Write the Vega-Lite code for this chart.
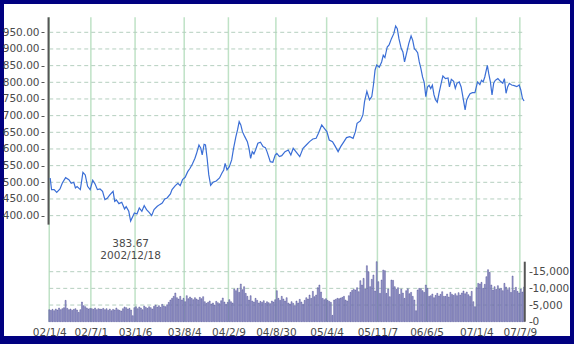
{
"$schema": "https://vega.github.io/schema/vega-lite/v6.json",
"width": 566, "height": 332,
"autosize": {"type": "none"},
"padding": {"left": 4, "top": 4, "right": 4, "bottom": 8},
"background": "#000080",
"config": {"view": {"fill": "#ffffff", "stroke": null}, "axis": {"labelFont": "DejaVu Sans", "labelFontSize": 10.5, "labelColor": "#4a4a4a", "grid": false, "labelOverlap": false}},
"datasets": {
"prices": [
{"d":"2002-01-08","p":513},{"d":"2002-01-14","p":478},{"d":"2002-01-25","p":478},{"d":"2002-02-05","p":470},{"d":"2002-02-19","p":480},{"d":"2002-03-01","p":498},{"d":"2002-03-15","p":514},{"d":"2002-03-29","p":508},{"d":"2002-04-08","p":497},{"d":"2002-04-19","p":500},{"d":"2002-04-26","p":483},{"d":"2002-05-03","p":487},{"d":"2002-05-17","p":478},{"d":"2002-05-28","p":530},{"d":"2002-06-07","p":522},{"d":"2002-06-17","p":488},{"d":"2002-06-28","p":478},{"d":"2002-07-09","p":506},{"d":"2002-07-19","p":495},{"d":"2002-07-29","p":478},{"d":"2002-08-09","p":480},{"d":"2002-08-20","p":473},{"d":"2002-08-30","p":448},{"d":"2002-09-09","p":452},{"d":"2002-09-20","p":462},{"d":"2002-10-04","p":473},{"d":"2002-10-11","p":443},{"d":"2002-10-18","p":447},{"d":"2002-10-29","p":436},{"d":"2002-11-10","p":440},{"d":"2002-11-22","p":420},{"d":"2002-11-29","p":427},{"d":"2002-12-10","p":413},{"d":"2002-12-18","p":383.67},
{"d":"2003-01-03","p":408},{"d":"2003-01-14","p":405},{"d":"2003-01-24","p":423},{"d":"2003-02-04","p":413},{"d":"2003-02-14","p":430},{"d":"2003-02-24","p":418},{"d":"2003-03-07","p":410},{"d":"2003-03-18","p":400},{"d":"2003-03-28","p":418},{"d":"2003-04-11","p":428},{"d":"2003-04-21","p":433},{"d":"2003-05-02","p":438},{"d":"2003-05-13","p":450},{"d":"2003-05-23","p":453},{"d":"2003-06-06","p":465},{"d":"2003-06-13","p":478},{"d":"2003-06-27","p":490},{"d":"2003-07-08","p":497},{"d":"2003-07-18","p":490},{"d":"2003-07-28","p":508},{"d":"2003-08-08","p":515},{"d":"2003-08-19","p":532},{"d":"2003-08-29","p":542},{"d":"2003-09-08","p":555},{"d":"2003-09-19","p":572},{"d":"2003-09-26","p":587},{"d":"2003-10-06","p":612},{"d":"2003-10-14","p":602},{"d":"2003-10-20","p":582},{"d":"2003-10-28","p":614},{"d":"2003-11-03","p":612},{"d":"2003-11-10","p":572},{"d":"2003-11-17","p":523},{"d":"2003-11-25","p":491},{"d":"2003-12-05","p":500},{"d":"2003-12-19","p":504},
{"d":"2004-01-02","p":513},{"d":"2004-01-12","p":527},{"d":"2004-01-20","p":537},{"d":"2004-01-26","p":557},{"d":"2004-02-03","p":537},{"d":"2004-02-13","p":547},{"d":"2004-02-23","p":567},{"d":"2004-03-02","p":602},{"d":"2004-03-12","p":637},{"d":"2004-03-19","p":657},{"d":"2004-03-26","p":682},{"d":"2004-04-02","p":672},{"d":"2004-04-09","p":652},{"d":"2004-04-19","p":637},{"d":"2004-04-30","p":622},{"d":"2004-05-07","p":602},{"d":"2004-05-14","p":572},{"d":"2004-05-21","p":592},{"d":"2004-05-28","p":585},{"d":"2004-06-04","p":597},{"d":"2004-06-14","p":617},{"d":"2004-06-25","p":620},{"d":"2004-07-06","p":607},{"d":"2004-07-16","p":604},{"d":"2004-07-23","p":592},{"d":"2004-07-30","p":577},{"d":"2004-08-06","p":562},{"d":"2004-08-17","p":560},{"d":"2004-08-27","p":582},{"d":"2004-09-03","p":587},{"d":"2004-09-14","p":577},{"d":"2004-09-24","p":580},{"d":"2004-10-08","p":592},{"d":"2004-10-22","p":597},{"d":"2004-11-02","p":582},{"d":"2004-11-12","p":602},{"d":"2004-11-26","p":590},{"d":"2004-12-10","p":577},{"d":"2004-12-24","p":602},
{"d":"2005-01-07","p":612},{"d":"2005-01-21","p":622},{"d":"2005-02-04","p":630},{"d":"2005-02-18","p":632},{"d":"2005-02-28","p":647},{"d":"2005-03-14","p":672},{"d":"2005-03-25","p":662},{"d":"2005-04-05","p":652},{"d":"2005-04-15","p":627},{"d":"2005-04-29","p":622},{"d":"2005-05-09","p":610},{"d":"2005-05-23","p":592},{"d":"2005-06-03","p":607},{"d":"2005-06-17","p":622},{"d":"2005-06-28","p":634},{"d":"2005-07-12","p":637},{"d":"2005-07-26","p":632},{"d":"2005-08-05","p":652},{"d":"2005-08-12","p":677},{"d":"2005-08-26","p":684},{"d":"2005-09-06","p":702},{"d":"2005-09-13","p":742},{"d":"2005-09-23","p":773},{"d":"2005-10-04","p":747},{"d":"2005-10-14","p":757},{"d":"2005-10-21","p":792},{"d":"2005-10-28","p":837},{"d":"2005-11-04","p":852},{"d":"2005-11-15","p":845},{"d":"2005-11-25","p":861},{"d":"2005-12-02","p":881},{"d":"2005-12-09","p":874},{"d":"2005-12-19","p":906},{"d":"2005-12-27","p":912},
{"d":"2006-01-06","p":931},{"d":"2006-01-16","p":946},{"d":"2006-01-24","p":969},{"d":"2006-01-31","p":961},{"d":"2006-02-07","p":931},{"d":"2006-02-17","p":901},{"d":"2006-02-24","p":891},{"d":"2006-03-03","p":861},{"d":"2006-03-13","p":891},{"d":"2006-03-21","p":916},{"d":"2006-03-31","p":939},{"d":"2006-04-07","p":926},{"d":"2006-04-14","p":901},{"d":"2006-04-21","p":896},{"d":"2006-04-28","p":889},{"d":"2006-05-05","p":861},{"d":"2006-05-12","p":841},{"d":"2006-05-19","p":816},{"d":"2006-05-26","p":800},{"d":"2006-06-02","p":757},{"d":"2006-06-09","p":786},{"d":"2006-06-16","p":791},{"d":"2006-06-23","p":781},{"d":"2006-06-30","p":791},{"d":"2006-07-07","p":762},{"d":"2006-07-14","p":747},{"d":"2006-07-21","p":740},{"d":"2006-07-28","p":766},{"d":"2006-08-08","p":801},{"d":"2006-08-14","p":819},{"d":"2006-08-25","p":811},{"d":"2006-09-05","p":813},{"d":"2006-09-11","p":786},{"d":"2006-09-19","p":809},{"d":"2006-09-29","p":803},{"d":"2006-10-06","p":782},{"d":"2006-10-13","p":797},{"d":"2006-10-23","p":801},{"d":"2006-10-31","p":786},{"d":"2006-11-06","p":762},{"d":"2006-11-17","p":717},{"d":"2006-11-24","p":747},{"d":"2006-12-01","p":757},{"d":"2006-12-08","p":766},{"d":"2006-12-18","p":769},{"d":"2006-12-29","p":769},
{"d":"2007-01-09","p":801},{"d":"2007-01-19","p":793},{"d":"2007-01-26","p":806},{"d":"2007-02-02","p":801},{"d":"2007-02-09","p":816},{"d":"2007-02-20","p":851},{"d":"2007-02-26","p":826},{"d":"2007-03-05","p":801},{"d":"2007-03-12","p":762},{"d":"2007-03-19","p":797},{"d":"2007-03-26","p":806},{"d":"2007-04-06","p":811},{"d":"2007-04-17","p":803},{"d":"2007-04-27","p":797},{"d":"2007-05-04","p":811},{"d":"2007-05-11","p":767},{"d":"2007-05-18","p":787},{"d":"2007-05-25","p":797},{"d":"2007-06-04","p":792},{"d":"2007-06-15","p":790},{"d":"2007-06-26","p":787},{"d":"2007-07-06","p":792},{"d":"2007-07-13","p":777},{"d":"2007-07-20","p":752},{"d":"2007-07-27","p":744}
],
"volume": [
{"d":"2002-01-04","v":3600},{"d":"2002-01-11","v":3400},{"d":"2002-01-18","v":3700},{"d":"2002-01-25","v":3300},{"d":"2002-02-01","v":3800},{"d":"2002-02-08","v":3500},{"d":"2002-02-15","v":4100},{"d":"2002-02-22","v":3600},{"d":"2002-03-01","v":3900},{"d":"2002-03-08","v":4200},{"d":"2002-03-15","v":6400},{"d":"2002-03-22","v":4000},{"d":"2002-03-29","v":3600},{"d":"2002-04-05","v":3800},{"d":"2002-04-12","v":3400},{"d":"2002-04-19","v":3700},{"d":"2002-04-26","v":3900},{"d":"2002-05-03","v":3500},{"d":"2002-05-10","v":2800},{"d":"2002-05-17","v":3600},{"d":"2002-05-24","v":5900},{"d":"2002-05-31","v":4800},{"d":"2002-06-07","v":4500},{"d":"2002-06-14","v":4100},{"d":"2002-06-21","v":3800},{"d":"2002-06-28","v":4000},{"d":"2002-07-05","v":3900},{"d":"2002-07-12","v":3700},{"d":"2002-07-19","v":4100},{"d":"2002-07-26","v":3600},{"d":"2002-08-02","v":3900},{"d":"2002-08-09","v":3800},{"d":"2002-08-16","v":3700},{"d":"2002-08-23","v":4000},{"d":"2002-08-30","v":3600},{"d":"2002-09-06","v":3900},{"d":"2002-09-13","v":3400},{"d":"2002-09-20","v":3800},{"d":"2002-09-27","v":3300},{"d":"2002-10-04","v":3700},{"d":"2002-10-11","v":3500},{"d":"2002-10-18","v":4100},{"d":"2002-10-25","v":3600},{"d":"2002-11-01","v":3400},{"d":"2002-11-08","v":3200},{"d":"2002-11-15","v":3900},{"d":"2002-11-22","v":4400},{"d":"2002-11-29","v":4200},{"d":"2002-12-06","v":3800},{"d":"2002-12-13","v":4000},{"d":"2002-12-20","v":3500},{"d":"2002-12-27","v":1800},
{"d":"2003-01-03","v":4200},{"d":"2003-01-10","v":4500},{"d":"2003-01-17","v":3900},{"d":"2003-01-24","v":4400},{"d":"2003-01-31","v":4100},{"d":"2003-02-07","v":3600},{"d":"2003-02-14","v":4700},{"d":"2003-02-21","v":4300},{"d":"2003-02-28","v":4000},{"d":"2003-03-07","v":4500},{"d":"2003-03-14","v":4200},{"d":"2003-03-21","v":3800},{"d":"2003-03-28","v":4600},{"d":"2003-04-04","v":5000},{"d":"2003-04-11","v":4400},{"d":"2003-04-18","v":4800},{"d":"2003-04-25","v":4300},{"d":"2003-05-02","v":5200},{"d":"2003-05-09","v":4700},{"d":"2003-05-16","v":4500},{"d":"2003-05-23","v":5100},{"d":"2003-05-30","v":5800},{"d":"2003-06-06","v":6500},{"d":"2003-06-13","v":7000},{"d":"2003-06-20","v":7600},{"d":"2003-06-27","v":8600},{"d":"2003-07-04","v":7200},{"d":"2003-07-11","v":6800},{"d":"2003-07-18","v":7600},{"d":"2003-07-25","v":6500},{"d":"2003-08-01","v":7000},{"d":"2003-08-08","v":6000},{"d":"2003-08-15","v":7800},{"d":"2003-08-22","v":6900},{"d":"2003-08-29","v":7400},{"d":"2003-09-05","v":7000},{"d":"2003-09-12","v":6600},{"d":"2003-09-19","v":7200},{"d":"2003-09-26","v":6800},{"d":"2003-10-03","v":6500},{"d":"2003-10-10","v":7300},{"d":"2003-10-17","v":6900},{"d":"2003-10-24","v":7500},{"d":"2003-10-31","v":6000},{"d":"2003-11-07","v":5500},{"d":"2003-11-14","v":5800},{"d":"2003-11-21","v":6200},{"d":"2003-11-28","v":5300},{"d":"2003-12-05","v":5600},{"d":"2003-12-12","v":5000},{"d":"2003-12-19","v":6100},{"d":"2003-12-26","v":5700},
{"d":"2004-01-02","v":5400},{"d":"2004-01-09","v":6300},{"d":"2004-01-16","v":7100},{"d":"2004-01-23","v":5900},{"d":"2004-01-30","v":5200},{"d":"2004-02-06","v":5800},{"d":"2004-02-13","v":6600},{"d":"2004-02-20","v":6000},{"d":"2004-02-27","v":5600},{"d":"2004-03-05","v":9800},{"d":"2004-03-12","v":9300},{"d":"2004-03-19","v":10000},{"d":"2004-03-26","v":8800},{"d":"2004-04-02","v":11300},{"d":"2004-04-09","v":9600},{"d":"2004-04-16","v":10500},{"d":"2004-04-23","v":8500},{"d":"2004-04-30","v":7600},{"d":"2004-05-07","v":6500},{"d":"2004-05-14","v":7800},{"d":"2004-05-21","v":6200},{"d":"2004-05-28","v":5900},{"d":"2004-06-04","v":7000},{"d":"2004-06-11","v":6400},{"d":"2004-06-18","v":5600},{"d":"2004-06-25","v":6100},{"d":"2004-07-02","v":5800},{"d":"2004-07-09","v":6300},{"d":"2004-07-16","v":5500},{"d":"2004-07-23","v":6000},{"d":"2004-07-30","v":5700},{"d":"2004-08-06","v":5400},{"d":"2004-08-13","v":6200},{"d":"2004-08-20","v":5900},{"d":"2004-08-27","v":6600},{"d":"2004-09-03","v":9300},{"d":"2004-09-10","v":7000},{"d":"2004-09-17","v":6400},{"d":"2004-09-24","v":7600},{"d":"2004-10-01","v":6800},{"d":"2004-10-08","v":6200},{"d":"2004-10-15","v":7200},{"d":"2004-10-22","v":5600},{"d":"2004-10-29","v":5300},{"d":"2004-11-05","v":6000},{"d":"2004-11-12","v":5500},{"d":"2004-11-19","v":4800},{"d":"2004-11-26","v":6200},{"d":"2004-12-03","v":5600},{"d":"2004-12-10","v":6700},{"d":"2004-12-17","v":5900},{"d":"2004-12-24","v":5200},{"d":"2004-12-31","v":6400},
{"d":"2005-01-07","v":7200},{"d":"2005-01-14","v":6800},{"d":"2005-01-21","v":8000},{"d":"2005-01-28","v":7000},{"d":"2005-02-04","v":9100},{"d":"2005-02-11","v":7500},{"d":"2005-02-18","v":8000},{"d":"2005-02-25","v":10200},{"d":"2005-03-04","v":11000},{"d":"2005-03-11","v":8900},{"d":"2005-03-18","v":7000},{"d":"2005-03-25","v":6600},{"d":"2005-04-01","v":6900},{"d":"2005-04-08","v":6400},{"d":"2005-04-15","v":6100},{"d":"2005-04-22","v":5800},{"d":"2005-04-29","v":1900},{"d":"2005-05-06","v":6500},{"d":"2005-05-13","v":6700},{"d":"2005-05-20","v":7000},{"d":"2005-05-27","v":6900},{"d":"2005-06-03","v":7100},{"d":"2005-06-10","v":7300},{"d":"2005-06-17","v":7600},{"d":"2005-06-24","v":6500},{"d":"2005-07-01","v":6200},{"d":"2005-07-08","v":7800},{"d":"2005-07-15","v":8800},{"d":"2005-07-22","v":9400},{"d":"2005-07-29","v":9700},{"d":"2005-08-05","v":9500},{"d":"2005-08-12","v":10200},{"d":"2005-08-19","v":9000},{"d":"2005-08-26","v":12300},{"d":"2005-09-02","v":11000},{"d":"2005-09-09","v":13000},{"d":"2005-09-16","v":9800},{"d":"2005-09-23","v":16800},{"d":"2005-09-30","v":15000},{"d":"2005-10-07","v":10500},{"d":"2005-10-14","v":12700},{"d":"2005-10-21","v":14000},{"d":"2005-10-28","v":9200},{"d":"2005-11-04","v":18000},{"d":"2005-11-11","v":12000},{"d":"2005-11-18","v":8500},{"d":"2005-11-25","v":12500},{"d":"2005-12-02","v":15500},{"d":"2005-12-09","v":15300},{"d":"2005-12-16","v":8500},{"d":"2005-12-23","v":9800},{"d":"2005-12-30","v":7500},
{"d":"2006-01-06","v":12500},{"d":"2006-01-13","v":12400},{"d":"2006-01-20","v":10500},{"d":"2006-01-27","v":9700},{"d":"2006-02-03","v":10200},{"d":"2006-02-10","v":8200},{"d":"2006-02-17","v":9800},{"d":"2006-02-24","v":8600},{"d":"2006-03-03","v":7000},{"d":"2006-03-10","v":9300},{"d":"2006-03-17","v":9900},{"d":"2006-03-24","v":8400},{"d":"2006-03-31","v":8800},{"d":"2006-04-07","v":7600},{"d":"2006-04-14","v":6500},{"d":"2006-04-21","v":3300},{"d":"2006-04-28","v":9500},{"d":"2006-05-05","v":10000},{"d":"2006-05-12","v":9900},{"d":"2006-05-19","v":9300},{"d":"2006-05-26","v":8800},{"d":"2006-06-02","v":11000},{"d":"2006-06-09","v":10000},{"d":"2006-06-16","v":7600},{"d":"2006-06-23","v":7800},{"d":"2006-06-30","v":8300},{"d":"2006-07-07","v":7200},{"d":"2006-07-14","v":7900},{"d":"2006-07-21","v":8500},{"d":"2006-07-28","v":7700},{"d":"2006-08-04","v":8200},{"d":"2006-08-11","v":9000},{"d":"2006-08-18","v":7600},{"d":"2006-08-25","v":7600},{"d":"2006-09-01","v":8300},{"d":"2006-09-08","v":7400},{"d":"2006-09-15","v":8800},{"d":"2006-09-22","v":8200},{"d":"2006-09-29","v":7900},{"d":"2006-10-06","v":8400},{"d":"2006-10-13","v":7800},{"d":"2006-10-20","v":8700},{"d":"2006-10-27","v":8000},{"d":"2006-11-03","v":8600},{"d":"2006-11-10","v":9200},{"d":"2006-11-17","v":8400},{"d":"2006-11-24","v":8900},{"d":"2006-12-01","v":8100},{"d":"2006-12-08","v":7600},{"d":"2006-12-15","v":9100},{"d":"2006-12-22","v":6000},{"d":"2006-12-29","v":4500},
{"d":"2007-01-05","v":10200},{"d":"2007-01-12","v":11500},{"d":"2007-01-19","v":11300},{"d":"2007-01-26","v":11800},{"d":"2007-02-02","v":10000},{"d":"2007-02-09","v":11200},{"d":"2007-02-16","v":13500},{"d":"2007-02-23","v":15600},{"d":"2007-03-02","v":14800},{"d":"2007-03-09","v":11000},{"d":"2007-03-16","v":9500},{"d":"2007-03-23","v":10500},{"d":"2007-03-30","v":9700},{"d":"2007-04-06","v":10800},{"d":"2007-04-13","v":9800},{"d":"2007-04-20","v":10000},{"d":"2007-04-27","v":9300},{"d":"2007-05-04","v":11500},{"d":"2007-05-11","v":10400},{"d":"2007-05-18","v":9600},{"d":"2007-05-25","v":10200},{"d":"2007-06-01","v":8800},{"d":"2007-06-08","v":13700},{"d":"2007-06-15","v":9400},{"d":"2007-06-22","v":10300},{"d":"2007-06-29","v":9100},{"d":"2007-07-06","v":8600},{"d":"2007-07-13","v":9800},{"d":"2007-07-20","v":8900},{"d":"2007-07-27","v":10400}
],
"plevels": [{"p":400},{"p":450},{"p":500},{"p":550},{"p":600},{"p":650},{"p":700},{"p":750},{"p":800},{"p":850},{"p":900},{"p":950}],
"vlevels": [{"v":5000},{"v":10000},{"v":15000}],
"ticks": [{"d":"2002-01-04"},{"d":"2002-07-01"},{"d":"2003-01-06"},{"d":"2003-08-04"},{"d":"2004-02-09"},{"d":"2004-08-30"},{"d":"2005-04-04"},{"d":"2005-11-07"},{"d":"2006-06-05"},{"d":"2007-01-04"},{"d":"2007-07-09"}]
},
"layer": [
{
"layer": [
{"data": {"name": "ticks"}, "mark": {"type": "rule", "color": "#bfe2c6", "strokeWidth": 1.5},
 "encoding": {"x": {"field": "d", "type": "temporal", "title": null, "scale": {"type": "utc", "domain": [{"year": 2001, "month": 7, "date": 16, "utc": true}, {"year": 2008, "month": 1, "date": 18, "utc": true}], "nice": false}},
  "y": {"datum": 995, "type": "quantitative", "title": null, "scale": {"domain": [38.9, 1034.9], "nice": false, "zero": false}}, "y2": {"datum": 82}}},
{"data": {"name": "plevels"}, "mark": {"type": "rule", "color": "#b5cfbf", "strokeDash": [4, 3], "strokeWidth": 1},
 "encoding": {"x": {"datum": {"year": 2002, "month": 1, "date": 4, "utc": true}, "type": "temporal", "title": null}, "x2": {"datum": {"year": 2007, "month": 8, "date": 1, "utc": true}},
  "y": {"field": "p", "type": "quantitative", "title": null}}},
{"data": {"values": [{}]}, "mark": {"type": "rule", "color": "#555555", "strokeWidth": 2},
 "encoding": {"x": {"datum": {"year": 2002, "month": 1, "date": 1, "utc": true}, "type": "temporal", "title": null},
  "y": {"datum": 373, "type": "quantitative", "title": null}, "y2": {"datum": 995}}},
{"data": {"name": "prices"}, "mark": {"type": "line", "color": "#3a6ed6", "strokeWidth": 1.2},
 "encoding": {"x": {"field": "d", "type": "temporal", "title": null, "axis": {"orient": "bottom", "offset": -14, "tickCount": 30, "values": [{"year": 2002, "month": 1, "date": 4, "utc": true}, {"year": 2002, "month": 7, "date": 1, "utc": true}, {"year": 2003, "month": 1, "date": 6, "utc": true}, {"year": 2003, "month": 8, "date": 4, "utc": true}, {"year": 2004, "month": 2, "date": 9, "utc": true}, {"year": 2004, "month": 8, "date": 30, "utc": true}, {"year": 2005, "month": 4, "date": 4, "utc": true}, {"year": 2005, "month": 11, "date": 7, "utc": true}, {"year": 2006, "month": 6, "date": 5, "utc": true}, {"year": 2007, "month": 1, "date": 4, "utc": true}, {"year": 2007, "month": 7, "date": 9, "utc": true}], "format": "%y/%-m/%-d", "domain": false, "ticks": false, "labelPadding": 5.5, "labelOverlap": false, "labelFlush": false}},
  "y": {"field": "p", "type": "quantitative", "title": null, "axis": {"orient": "left", "offset": -40, "tickCount": 30, "values": [400, 450, 500, 550, 600, 650, 700, 750, 800, 850, 900, 950], "format": ".2f", "domain": false, "ticks": true, "tickSize": 3, "tickColor": "#555555", "labelPadding": 2, "labelOverlap": false, "labelFlush": false}}}},
{"data": {"name": "prices"}, "transform": [{"filter": "datum.p == 383.67"}], "mark": {"type": "text", "dy": 23, "baseline": "middle", "align": "center", "font": "DejaVu Sans", "fontSize": 10.5, "color": "#4a4a4a"},
 "encoding": {"x": {"field": "d", "type": "temporal", "title": null}, "y": {"field": "p", "type": "quantitative", "title": null}, "text": {"field": "p", "type": "quantitative", "format": ".2f"}}},
{"data": {"name": "prices"}, "transform": [{"filter": "datum.p == 383.67"}], "mark": {"type": "text", "dy": 35, "baseline": "middle", "align": "center", "font": "DejaVu Sans", "fontSize": 10.5, "color": "#4a4a4a"},
 "encoding": {"x": {"field": "d", "type": "temporal", "title": null}, "y": {"field": "p", "type": "quantitative", "title": null}, "text": {"field": "d", "type": "temporal", "timeUnit": "utcyearmonthdate", "format": "%Y/%m/%d"}}}
]
},
{
"layer": [
{"data": {"name": "vlevels"}, "mark": {"type": "rule", "color": "#b5cfbf", "strokeDash": [4, 3], "strokeWidth": 1},
 "encoding": {"x": {"datum": {"year": 2002, "month": 1, "date": 4, "utc": true}, "type": "temporal", "title": null}, "x2": {"datum": {"year": 2007, "month": 8, "date": 1, "utc": true}},
  "y": {"field": "v", "type": "quantitative", "title": null, "scale": {"domain": [-4290, 95310], "nice": false, "zero": false}}}},
{"data": {"name": "volume"}, "mark": {"type": "bar", "width": 1, "fill": "#aaaadd", "stroke": "#404088", "strokeWidth": 0.45},
 "encoding": {"x": {"field": "d", "type": "temporal", "title": null},
  "y": {"field": "v", "type": "quantitative", "title": null, "axis": {"orient": "right", "offset": -41, "tickCount": 30, "values": [0, 5000, 10000, 15000], "format": ",d", "domain": false, "ticks": true, "tickSize": 3, "tickColor": "#555555", "labelPadding": 0, "labelOverlap": false, "labelFlush": false}},
  "y2": {"datum": 0}}},
{"data": {"values": [{}]}, "mark": {"type": "rule", "color": "#555555", "strokeWidth": 2},
 "encoding": {"x": {"datum": {"year": 2007, "month": 7, "date": 30, "utc": true}, "type": "temporal", "title": null},
  "y": {"datum": 0, "type": "quantitative", "title": null}, "y2": {"datum": 18000}}}
]
}
],
"resolve": {"scale": {"y": "independent"}}
}
